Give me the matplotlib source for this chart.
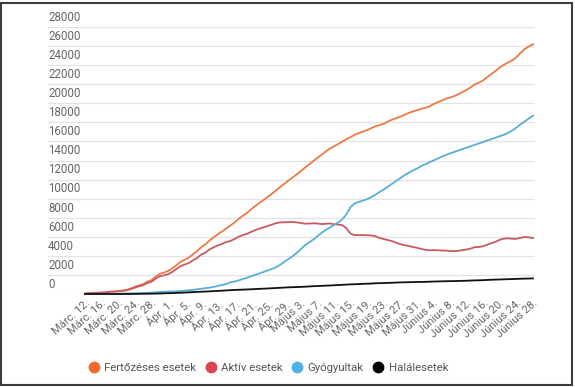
import matplotlib
matplotlib.use("Agg")
import matplotlib.pyplot as plt
from matplotlib.patches import Rectangle
from matplotlib.lines import Line2D

plt.rcParams["font.family"] = ["Roboto", "DejaVu Sans"]

# napi adatok: márc. 12. - jún. 28.
fertozes = [
    49, 89, 123, 131, 158, 184, 246, 277, 308, 367, 433, 576, 762, 906, 1029, 1292, 1452, 1815, 2109, 2245,
    2410, 2660, 3010, 3370, 3590, 3810, 4160, 4490, 4920, 5190, 5610, 5940, 6260, 6540, 6860, 7170, 7480,
    7860, 8190, 8480, 8860, 9210, 9540, 9840, 10170, 10490, 10840, 11210, 11540, 11880,
    12210, 12540, 12890, 13240, 13580, 13930, 14280, 14590, 14930, 15240, 15480, 15720, 15980, 16240, 16440,
    16700, 16871, 17036, 17191, 17387, 17585, 17712, 17857, 18070, 18283, 18429, 18594, 18791, 18982, 19133, 19257,
    19398, 19517, 19669, 19907, 20103, 20290, 20479, 20604, 20749, 20945, 21182, 21404, 21679, 21999, 22165,
    22415, 22760, 23080, 23400, 23762, 24045, 24291, 24505, 24826, 25286, 25697, 25958, 26196,
]
aktiv = [
    43, 80, 114, 122, 139, 165, 227, 252, 277, 315, 379, 501, 672, 803, 912, 1151, 1276, 1603, 1851, 1956,
    2073, 2299, 2613, 2919, 3083, 3244, 3529, 3772, 4137, 4328, 4669, 4895, 5099, 5241, 5447, 5552, 5754,
    6000, 6173, 6303, 6507, 6683, 6853, 6981, 7129, 7269, 7424, 7512, 7515, 7534,
    7547, 7511, 7446, 7374, 7390, 7412, 7398, 7334, 7358, 7399, 7312, 7285, 7220, 6903, 6332,
    6175, 6175, 6172, 6161, 6140, 6060, 5875, 5760, 5653, 5555, 5380, 5231, 5114, 5047, 4933, 4848,
    4731, 4641, 4581, 4601, 4587, 4559, 4560, 4506, 4492, 4526, 4602, 4664, 4766, 4923, 4928,
    5014, 5187, 5334, 5490, 5689, 5805, 5839, 5789, 5791, 5888, 5985, 5936, 5862,
]
gyogyult = [
    6, 9, 9, 9, 19, 19, 19, 25, 31, 52, 52, 73, 79, 86, 94, 115, 139, 169, 206, 220,
    252, 267, 283, 318, 356, 390, 434, 498, 545, 606, 663, 745, 841, 953, 1041, 1218, 1305,
    1420, 1560, 1700, 1860, 2010, 2150, 2300, 2460, 2620, 2790, 3050, 3350, 3650,
    3950, 4300, 4700, 5100, 5400, 5700, 6050, 6400, 6700, 6950, 7250, 7500, 7800, 8350, 9100,
    9500, 9650, 9800, 9950, 10150, 10400, 10700, 10950, 11250, 11550, 11850, 12150, 12450, 12700, 12950, 13150,
    13400, 13600, 13800, 14000, 14200, 14400, 14580, 14750, 14900, 15050, 15200, 15350, 15500, 15650, 15800,
    15950, 16100, 16250, 16400, 16550, 16700, 16900, 17150, 17450, 17800, 18100, 18400, 18700,
]
halal = [
    0, 0, 0, 0, 0, 0, 0, 0, 0, 0, 2, 2, 11, 17, 23, 26, 37, 43, 52, 69,
    85, 94, 114, 133, 151, 176, 197, 220, 238, 256, 278, 300, 320, 346, 372, 400, 421,
    440, 457, 477, 493, 517, 537, 559, 581, 601, 626, 648, 675, 696,
    713, 729, 744, 766, 790, 818, 832, 856, 872, 891, 918, 935, 960, 987, 1008,
    1025, 1046, 1064, 1080, 1097, 1125, 1137, 1147, 1167, 1178, 1199, 1213, 1227, 1235, 1250, 1259,
    1267, 1276, 1288, 1306, 1316, 1331, 1339, 1348, 1357, 1369, 1380, 1390, 1413, 1426, 1437,
    1451, 1473, 1496, 1510, 1523, 1540, 1552, 1566, 1585, 1598, 1612, 1622, 1634,
]
datum_cimkek = [
    "Márc. 12.", "Márc. 16.", "Márc. 20.", "Márc. 24.", "Márc. 28.", "Ápr. 1.", "Ápr. 5.",
    "Ápr. 9.", "Ápr. 13.", "Ápr. 17.", "Ápr. 21.", "Ápr. 25.", "Ápr. 29.", "Május 3.",
    "Május 7.", "Május 11.", "Május 15.", "Május 19.", "Május 23.", "Május 27.", "Május 31.",
    "Június 4.", "Június 8.", "Június 12.", "Június 16.", "Június 20.", "Június 24.", "Június 28.",
]
y_ertekek = list(range(0, 28001, 2000))

sorozatok = [
    ("Fertőzéses esetek", fertozes, "#EC7A45", "#F26A2E"),
    ("Aktív esetek", aktiv, "#C85A62", "#D9464F"),
    ("Gyógyultak", gyogyult, "#58AED8", "#4DB2E8"),
    ("Halálesetek", halal, "#111111", "#000000"),
]

W, H = 575, 387
fig = plt.figure(figsize=(W / 100, H / 100), dpi=100, facecolor="white")
ax = fig.add_axes([48 / W, 1 - 294 / H, (535 - 48) / W, (294 - 27) / H])

px_per_day = (533 - 85) / 108
ax.set_xlim(-(85 - 48) / px_per_day, 108 + 2 / px_per_day)
ax.set_ylim(0, 28000)

napok = list(range(len(fertozes)))
for nev, ertek, szin, _ in sorozatok:
    ax.plot(napok, ertek, color=szin, lw=1.3, clip_on=False, zorder=3)

# rácsvonalak + felirat a vonal fölött
for v in y_ertekek:
    ax.axhline(v, color="#e3e3e3", lw=0.9, zorder=1)
    ax.text(ax.get_xlim()[0], v + 330, str(v), fontsize=8.3, color="#666666",
            ha="left", va="bottom")

for s in ax.spines.values():
    s.set_visible(False)
ax.set_yticks([])
ax.set_xticks(range(0, 109, 4))
ax.set_xticklabels(datum_cimkek, rotation=42, ha="right", rotation_mode="anchor",
                   fontsize=8, color="#666666")
ax.tick_params(axis="x", length=0, pad=3)

handles = [Line2D([], [], ls="none", marker="o", markersize=7.5, color=c2, label=n)
           for n, _, _, c2 in sorozatok]
fig.legend(handles=handles, loc="center", bbox_to_anchor=(268 / W, 1 - 368 / H),
           ncol=4, frameon=False, fontsize=8.2, labelcolor="#555555",
           handletextpad=0.4, columnspacing=0.8, handlelength=1.0)

fig.add_artist(Rectangle((1 / W, 2 / H), 571 / W, 382 / H, transform=fig.transFigure,
                         fill=False, edgecolor="#3c3c3c", lw=1.5))

fig.savefig("out.png", dpi=100)
